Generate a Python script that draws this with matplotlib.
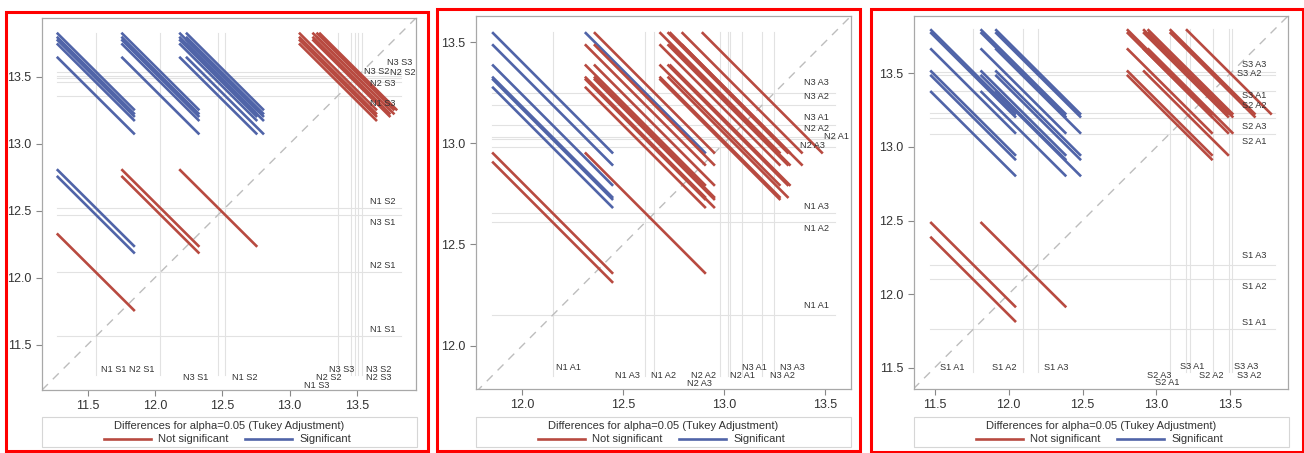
import matplotlib
matplotlib.use('Agg')
import matplotlib.pyplot as plt
from matplotlib.patches import Rectangle
from matplotlib.lines import Line2D

plt.rcParams['font.family'] = ['Liberation Sans', 'DejaVu Sans']

W, H = 1304, 453

# LS-means and CI half-width of the differences (Tukey)
ns_groups = ['N1 S1', 'N2 S1', 'N3 S1', 'N1 S2', 'N1 S3', 'N2 S3', 'N2 S2', 'N3 S2', 'N3 S3']
ns_means = [11.56, 12.04, 12.47, 12.52, 13.36, 13.46, 13.49, 13.51, 13.54]
ns_ci = 0.58

na_groups = ['N1 A1', 'N1 A2', 'N1 A3', 'N2 A3', 'N2 A2', 'N2 A1', 'N3 A1', 'N3 A2', 'N3 A3']
na_means = [12.15, 12.61, 12.655, 12.98, 13.02, 13.03, 13.09, 13.19, 13.25]
na_ci = 0.60

sa_groups = ['S1 A1', 'S1 A2', 'S1 A3', 'S2 A1', 'S2 A3', 'S2 A2', 'S3 A1', 'S3 A2', 'S3 A3']
sa_means = [11.76, 12.10, 12.20, 13.09, 13.20, 13.23, 13.38, 13.49, 13.51]
sa_ci = 0.58

legend_title = 'Differences for alpha=0.05 (Tukey Adjustment)'
legend_names = ['Not significant', 'Significant']

RED = '#B84A40'
BLUE = '#5064A8'
REF = '#E2E2E2'
TXT = '#333333'


def fig_rect(l, t, r, b):
    return [l / W, 1 - b / H, (r - l) / W, (b - t) / H]


def diffogram(ax, groups, means, ci, xlim, ylim, ticks, right_pos, bottom_pos):
    w = ci / 2
    lo = min(means) - w
    hi = max(means) + w
    # reference lines at each mean
    for m in means:
        ax.plot([m, m], [lo, hi], color=REF, lw=0.8, zorder=1)
        ax.plot([lo, hi], [m, m], color=REF, lw=0.8, zorder=1)
    d0 = min(xlim[0], ylim[0])
    d1 = max(xlim[1], ylim[1])
    ax.plot([d0, d1], [d0, d1], color='#BDBDBD', lw=1.0, ls=(0, (6, 5)), zorder=2)
    n = len(means)
    for i in range(n):
        for j in range(i + 1, n):
            x, y = sorted([means[i], means[j]])
            col = BLUE if (y - x) > ci else RED
            ax.plot([x - w, x + w], [y + w, y - w], color=col, lw=1.9,
                    solid_capstyle='butt', zorder=3)
    for g, (tx, ty) in zip(groups, right_pos):
        ax.text(tx, ty, g, fontsize=6.6, color=TXT, ha='center', va='center', zorder=4)
    for g, (tx, ty) in zip(groups, bottom_pos):
        ax.text(tx, ty, g, fontsize=6.6, color=TXT, ha='center', va='center', zorder=4)
    ax.set_xlim(xlim)
    ax.set_ylim(ylim)
    ax.set_xticks(ticks)
    ax.set_yticks(ticks)
    ax.set_xticklabels([f'{t:.1f}' for t in ticks])
    ax.set_yticklabels([f'{t:.1f}' for t in ticks])
    for s in ax.spines.values():
        s.set_color('#A8A8A8')
        s.set_linewidth(0.9)
    ax.tick_params(colors='#888888', labelcolor=TXT, labelsize=9, length=4, width=0.8)


def legend_box(fig, l, r):
    fig.patches.append(Rectangle((l / W, 1 - 447 / H), (r - l) / W, 30 / H,
                                 transform=fig.transFigure, fill=False,
                                 edgecolor='#D6D6D6', lw=0.8))
    fig.text((l + r) / 2 / W, 1 - 426 / H, legend_title, fontsize=8, color=TXT,
             ha='center', va='center')
    for k, col in enumerate([RED, BLUE]):
        x0 = l + 62 + 141 * k
        fig.lines.append(Line2D([x0 / W, (x0 + 47) / W], [1 - 439 / H, 1 - 439 / H],
                                transform=fig.transFigure, color=col, lw=1.9))
        fig.text((x0 + 54) / W, 1 - 439 / H, legend_names[k], fontsize=8, color=TXT,
                 ha='left', va='center')


fig = plt.figure(figsize=(W / 100, H / 100), dpi=100)

ax1 = fig.add_axes(fig_rect(42, 18, 416, 390))
diffogram(ax1, ns_groups, ns_means, ns_ci, (11.16, 13.94), (11.16, 13.94),
          [11.5, 12.0, 12.5, 13.0, 13.5],
          [(13.69, 11.61), (13.69, 12.09), (13.69, 12.41), (13.69, 12.57), (13.69, 13.30),
           (13.69, 13.45), (13.84, 13.53), (13.65, 13.54), (13.82, 13.61)],
          [(11.69, 11.31), (11.90, 11.31), (12.30, 11.25), (12.67, 11.25), (13.20, 11.19),
           (13.66, 11.25), (13.29, 11.25), (13.66, 11.31), (13.39, 11.31)])
legend_box(fig, 42, 417)

ax2 = fig.add_axes(fig_rect(476, 16, 851, 389))
diffogram(ax2, na_groups, na_means, na_ci, (11.77, 13.63), (11.785, 13.63),
          [12.0, 12.5, 13.0, 13.5],
          [(13.46, 12.20), (13.46, 12.58), (13.46, 12.69), (13.44, 12.99), (13.46, 13.075),
           (13.56, 13.035), (13.46, 13.13), (13.46, 13.23), (13.46, 13.30)],
          [(12.23, 11.89), (12.70, 11.85), (12.52, 11.85), (12.88, 11.81), (12.90, 11.85),
           (13.09, 11.85), (13.15, 11.89), (13.29, 11.85), (13.34, 11.89)])
legend_box(fig, 476, 851)

ax3 = fig.add_axes(fig_rect(914, 16, 1288, 389))
diffogram(ax3, sa_groups, sa_means, sa_ci, (11.36, 13.89), (11.355, 13.89),
          [11.5, 12.0, 12.5, 13.0, 13.5],
          [(13.66, 11.81), (13.66, 12.05), (13.66, 12.26), (13.66, 13.04), (13.66, 13.14),
           (13.66, 13.28), (13.66, 13.35), (13.63, 13.50), (13.66, 13.56)],
          [(11.62, 11.50), (11.97, 11.50), (12.32, 11.50), (13.07, 11.40), (13.02, 11.45),
           (13.37, 11.445), (13.24, 11.505), (13.63, 11.445), (13.61, 11.505)])
legend_box(fig, 914, 1289)

# red frames around the three screenshots
for l, t, r, b in [(6, 12, 428, 451), (437, 9, 860, 451), (871, 9, 1303, 452)]:
    fig.patches.append(Rectangle((l / W, 1 - b / H), (r - l) / W, (b - t) / H,
                                 transform=fig.transFigure, fill=False,
                                 edgecolor='#FF0000', lw=2.2))

fig.savefig('out.png', dpi=100)
